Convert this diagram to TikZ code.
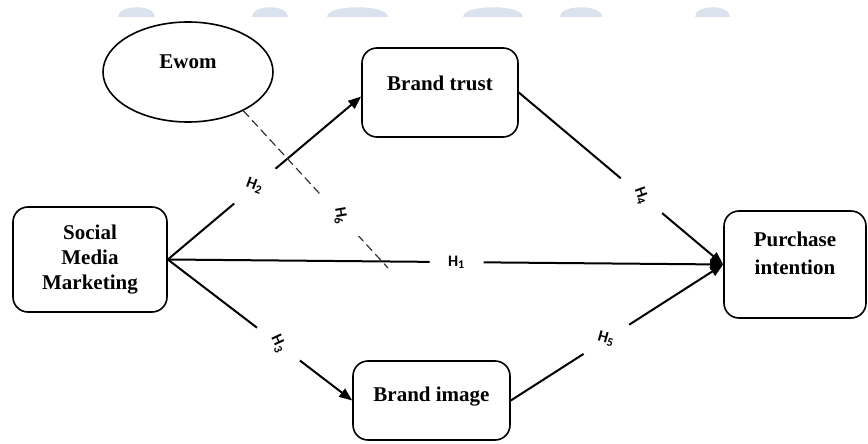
\documentclass[tikz,border=0pt]{standalone}
\usepackage{fontspec}
\setmainfont{Liberation Serif}
\newfontfamily\hypfont{Carlito}
\usetikzlibrary{shapes.geometric}
\usetikzlibrary{arrows.meta}
\definecolor{wmark}{RGB}{218,226,238}

\begin{document}
\begin{tikzpicture}[line cap=round,line join=round,>={Triangle[length=6.5pt,width=5pt]},x=0.5pt,y=-0.5pt,
  construct/.style={draw,line width=0.8pt,rounded corners=7.5pt,align=center,font=\fontsize{10.5}{12.5}\selectfont\bfseries},
  latent/.style={draw,ellipse,line width=0.8pt,font=\fontsize{10.5}{12.5}\selectfont\bfseries},
  hyp/.style={fill=white,circle,inner sep=0pt,minimum size=27pt,text=black,font=\hypfont\fontsize{8}{9}\selectfont\bfseries},
  effect/.style={line width=1pt,->}]
\useasboundingbox (0,0) rectangle (868,444);
%watermark along the top edge
\foreach \a/\b in {118/155,252/288,327/388,463/523,560/602,695/730}
  \fill[wmark] (\a,17) .. controls (\a,4) and (\b,4) .. (\b,17) -- cycle;
%constructs
\node[latent,minimum width=85pt,minimum height=50pt,text depth=10pt] (ewom) at (188,72) {Ewom};
\node[construct,minimum width=78pt,minimum height=44.5pt,text depth=9.5pt] (trust) at (440,92.5) {Brand trust};
\node[construct,minimum width=78.5pt,minimum height=39.5pt,text depth=6pt] (image) at (431.5,400.5) {Brand image};
\node[construct,minimum width=77pt,minimum height=52.5pt] (smm) at (90,259.5) {Social\\Media\\Marketing};
\node[construct,minimum width=71pt,minimum height=53.5pt,text depth=11pt] (purchase) at (795,264.5) {Purchase\\[1.5pt]intention};
%hypotheses
\draw[effect] (smm.east) -- node[hyp,pos=0.52] {H\textsubscript{1}} (purchase.west);
\draw[effect] (smm.east) -- node[hyp,pos=0.45,rotate=-20] {H\textsubscript{2}} ([yshift=-2pt]trust.west);
\draw[effect] (smm.east) -- node[hyp,pos=0.6,rotate=-65] {H\textsubscript{3}} (image.west);
\draw[effect] (trust.east) -- node[hyp,pos=0.6,rotate=-70] {H\textsubscript{4}} (purchase.west);
\draw[effect] (image.east) -- node[hyp,pos=0.45,rotate=-15] {H\textsubscript{5}} (purchase.west);
%moderation
\coordinate (h6end) at (388,268);
\draw[line width=0.6pt,black!80,dash pattern=on 4pt off 2.5pt] (ewom.-35) -- node[hyp,pos=0.67,rotate=-80] {H\textsubscript{6}} (h6end);
\end{tikzpicture}
\end{document}
